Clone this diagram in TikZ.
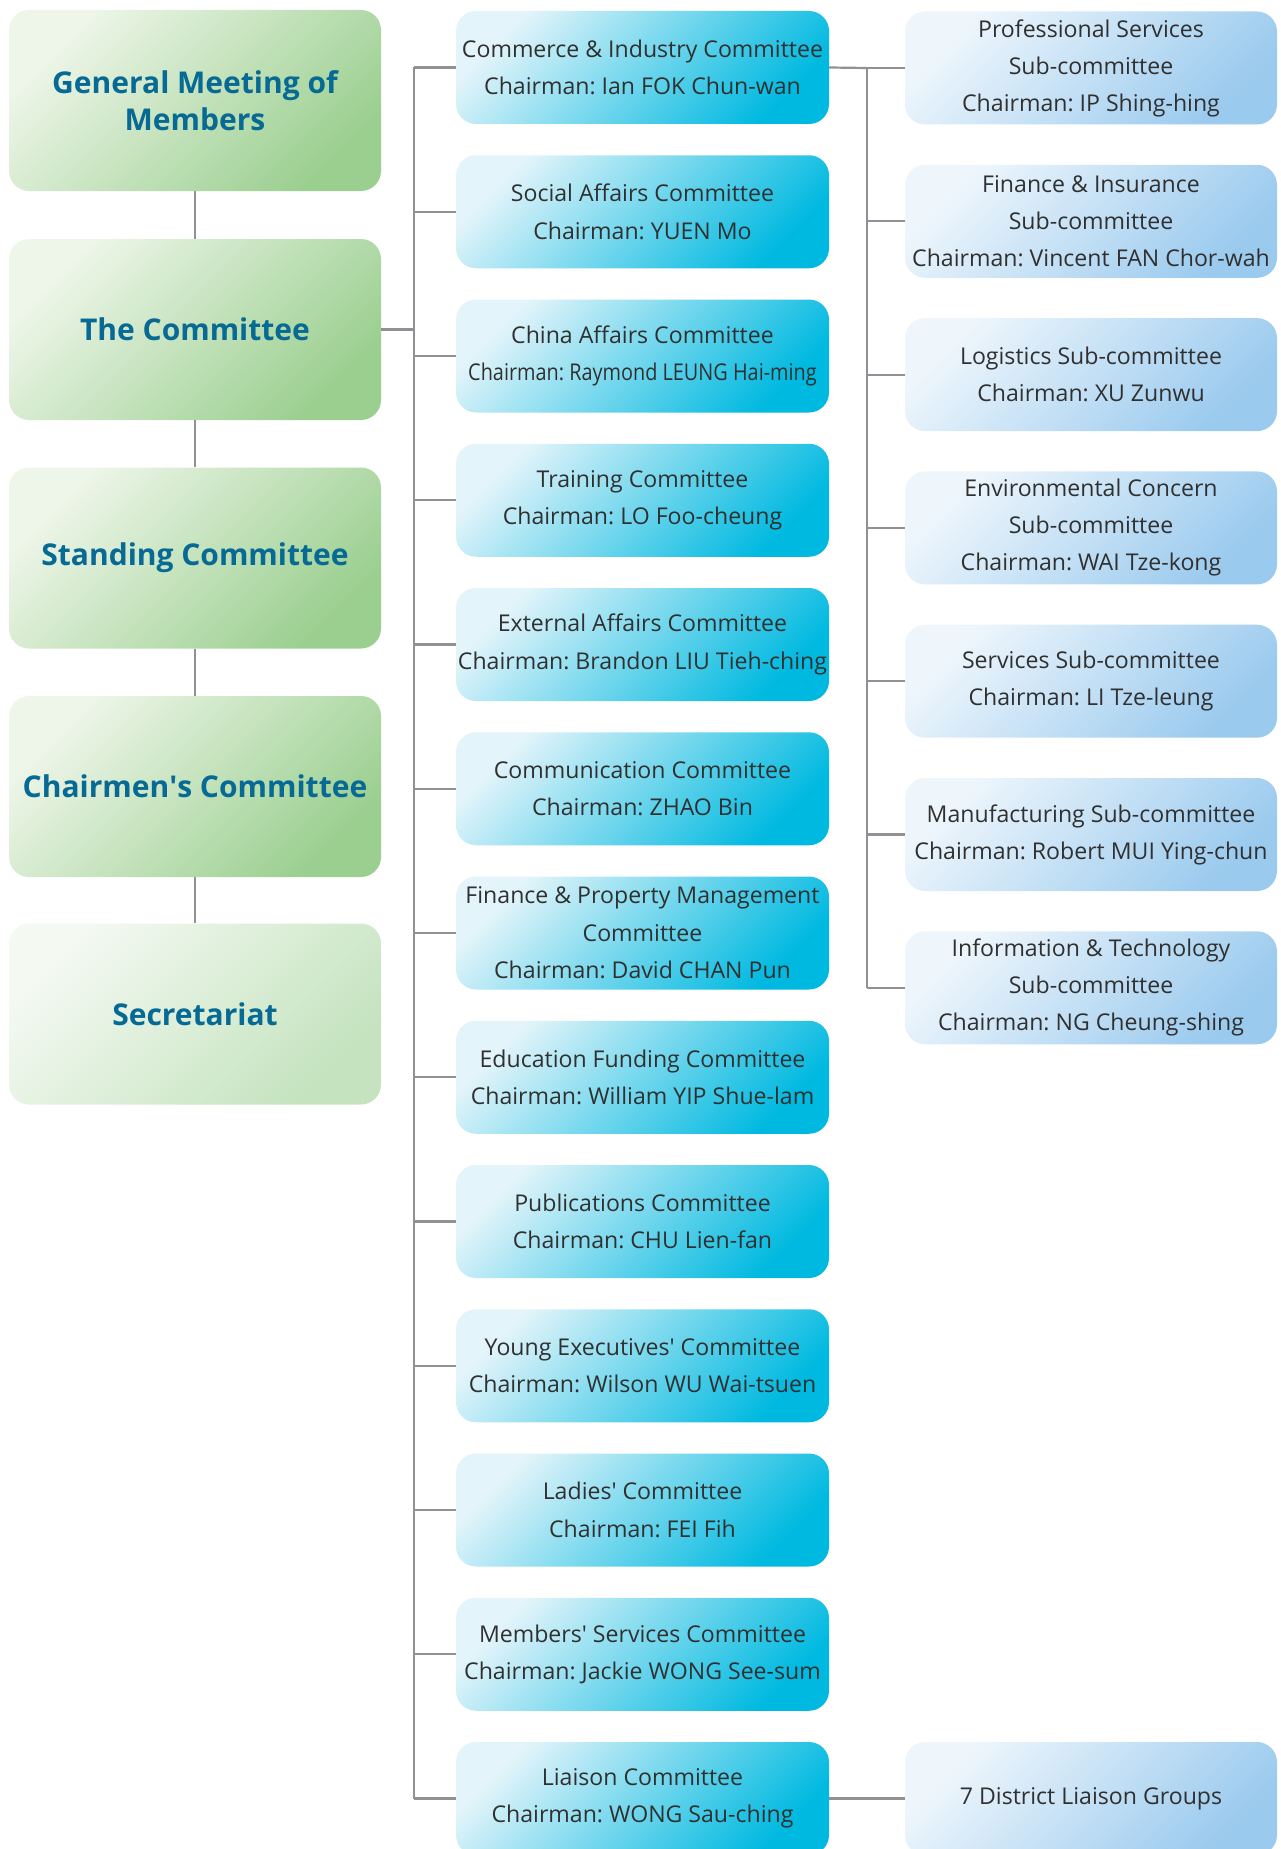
\documentclass[tikz,border=0pt]{standalone}
\usepackage{fontspec}
\setmainfont{Open Sans}
\newfontfamily\condfont[FakeStretch=0.86]{Open Sans}
\newcommand\apos{\textquotesingle}
\definecolor{gA}{HTML}{EEF6E9}
\definecolor{gB}{HTML}{9BCF90}
\definecolor{sA}{HTML}{F4F9F2}
\definecolor{sB}{HTML}{C4E3BE}
\definecolor{mA}{HTML}{E3F4FA}
\definecolor{mB}{HTML}{00B9E0}
\definecolor{rA}{HTML}{EEF6FC}
\definecolor{rB}{HTML}{9ACAEE}
\definecolor{ttl}{HTML}{066A94}
\definecolor{txt}{HTML}{303030}
\definecolor{lin}{HTML}{909095}
\tikzset{
  base/.style={rectangle, rounded corners=20pt, inner sep=0pt, align=center},
  gbox/.style={base, minimum width=372pt, minimum height=181pt, top color=gA, bottom color=gB, shading angle=45,
     font=\fontsize{30}{37}\selectfont\bfseries, text=ttl},
  sbox/.style={gbox, top color=sA, bottom color=sB, shading angle=45},
  mbox/.style={base, minimum width=373pt, minimum height=113pt, top color=mA, bottom color=mB, shading angle=45,
     font=\fontsize{23.1}{37.5}\selectfont, text=txt},
  rbox/.style={base, minimum width=372pt, minimum height=113pt, top color=rA, bottom color=rB, shading angle=45,
     font=\fontsize{23.1}{37}\selectfont, text=txt},
  conn/.style={draw=lin, line width=2.2pt}
}
\begin{document}
\frenchspacing
\begin{tikzpicture}[x=1pt,y=-1pt]
\useasboundingbox (0,0) rectangle (1281,1849);
\clip (0,0) rectangle (1281,1849);
% left column
\node[gbox] (g1) at (195,100.5) {General Meeting of\\Members};
\node[gbox] (g2) at (195,329.5) {The Committee};
\node[gbox] (g3) at (195,558) {Standing Committee};
\node[gbox] (g4) at (195,786.5) {Chairmen\apos s Committee};
\node[sbox] (g5) at (195,1014) {Secretariat};
\draw[conn] (g1.south) -- (g2.north);
\draw[conn] (g2.south) -- (g3.north);
\draw[conn] (g3.south) -- (g4.north);
\draw[conn] (g4.south) -- (g5.north);
% middle column
\node[mbox] (m1) at (642.5,67.5) {Commerce \& Industry Committee\\Chairman: Ian FOK Chun-wan};
\node[mbox] (m2) at (642.5,211.75) {Social Affairs Committee\\Chairman: YUEN Mo};
\node[mbox] (m3) at (642.5,356) {China Affairs Committee\\{\condfont Chairman: Raymond LEUNG Hai-ming}};
\node[mbox] (m4) at (642.5,500.25) {Training Committee\\Chairman: LO Foo-cheung};
\node[mbox] (m5) at (642.5,644.5) {External Affairs Committee\\Chairman: Brandon LIU Tieh-ching};
\node[mbox] (m6) at (642.5,788.75) {Communication Committee\\Chairman: ZHAO Bin};
\node[mbox] (m7) at (642.5,933) {Finance \& Property Management\\Committee\\Chairman: David CHAN Pun};
\node[mbox] (m8) at (642.5,1077.25) {Education Funding Committee\\Chairman: William YIP Shue-lam};
\node[mbox] (m9) at (642.5,1221.5) {Publications Committee\\Chairman: CHU Lien-fan};
\node[mbox] (m10) at (642.5,1365.75) {Young Executives\apos{} Committee\\Chairman: Wilson WU Wai-tsuen};
\node[mbox] (m11) at (642.5,1510) {Ladies\apos{} Committee\\Chairman: FEI Fih};
\node[mbox] (m12) at (642.5,1654.25) {Members\apos{} Services Committee\\Chairman: Jackie WONG See-sum};
\node[mbox] (m13) at (642.5,1798.5) {Liaison Committee\\Chairman: WONG Sau-ching};
% right column
\node[rbox] (r1) at (1091,68) {Professional Services\\Sub-committee\\Chairman: IP Shing-hing};
\node[rbox] (r2) at (1091,221.3) {Finance \& Insurance\\Sub-committee\\Chairman: Vincent FAN Chor-wah};
\node[rbox] (r3) at (1091,374.6) {Logistics Sub-committee\\Chairman: XU Zunwu};
\node[rbox] (r4) at (1091,527.9) {Environmental Concern\\Sub-committee\\Chairman: WAI Tze-kong};
\node[rbox] (r5) at (1091,681.2) {Services Sub-committee\\Chairman: LI Tze-leung};
\node[rbox] (r6) at (1091,834.5) {Manufacturing Sub-committee\\Chairman: Robert MUI Ying-chun};
\node[rbox] (r7) at (1091,987.8) {Information \& Technology\\Sub-committee\\Chairman: NG Cheung-shing};
\node[rbox] (d7) at (1091,1798.5) {7 District Liaison Groups};
% left trunk
\coordinate (ltop) at (414,67.5);
\coordinate (lbot) at (414,1798.5);
\draw[conn] (ltop) -- (lbot);
\draw[conn] (g2.east) -- (g2.east -| ltop);
\foreach \i in {1,...,13} {
  \draw[conn] (m\i.west) -- (m\i.west -| ltop);
}
% right trunk
\coordinate (rtop) at (867,68);
\draw[conn] (rtop) -- (r7.west -| rtop);
\draw[conn] (m1.east) -- (rtop);
\foreach \j in {1,...,7} {
  \draw[conn] (r\j.west) -- (r\j.west -| rtop);
}
\draw[conn] (m13.east) -- (d7.west);
\end{tikzpicture}
\end{document}
